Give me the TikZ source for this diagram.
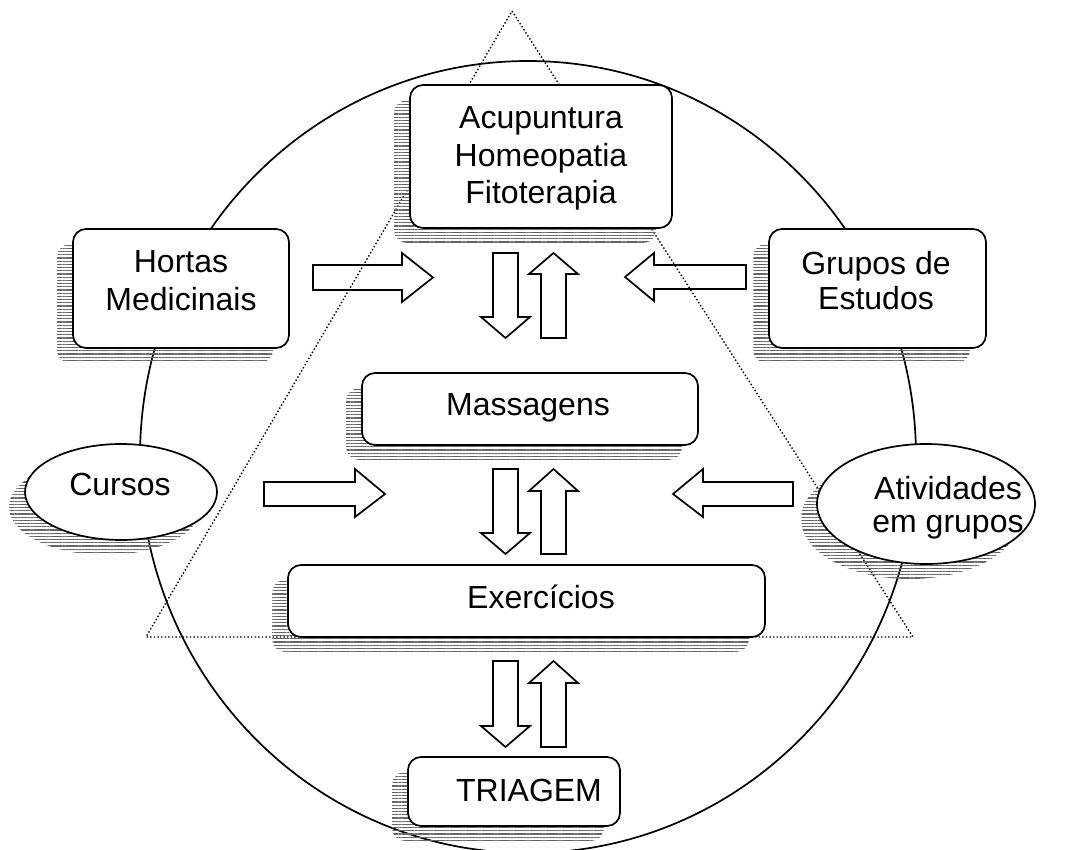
\documentclass[tikz,border=0pt]{standalone}
\usepackage{fontspec}
\setmainfont{Liberation Sans}
\usetikzlibrary{shapes.geometric,patterns.meta}
\tikzset{
  hatchshadow/.style={preaction={draw=none, pattern={Lines[angle=0,distance=3.2pt,line width=1.1pt]}, pattern color=black!60,
      transform canvas={shift={(-16pt,-15pt)}}}},
  rbox/.style={draw, line width=1.7pt, rounded corners=13pt, fill=white, inner sep=0pt, hatchshadow},
  ebox/.style={ellipse, draw, line width=1.7pt, fill=white, inner sep=0pt, hatchshadow},
  lbl/.style={inner sep=0pt, align=center, anchor=base, font=\fontsize{32}{38}\selectfont},
  barrow/.style={draw, line width=1.7pt, line join=miter},
  tri/.style={line width=1.4pt, dash pattern=on 1.4pt off 2.2pt},
  ring/.style={line width=1.7pt}
}
\begin{document}
\begin{tikzpicture}[x=1pt,y=-1pt]
\useasboundingbox (0,0) rectangle (1074,850);
% circle and triangle
\draw[ring] (528,457) ellipse [x radius=388pt, y radius=396pt];
\draw[tri] (512,11) -- (913,637) -- (146,637) -- cycle;
% boxes
\node[rbox, minimum width=262pt, minimum height=143pt] (acu) at (541,156.5) {};
\node[rbox, minimum width=216pt, minimum height=119pt] (hortas) at (181,288.5) {};
\node[rbox, minimum width=217pt, minimum height=119pt] (grupos) at (877.5,288.5) {};
\node[rbox, minimum width=336pt, minimum height=72pt] (mass) at (530,409) {};
\node[rbox, minimum width=477pt, minimum height=72pt] (exer) at (526.5,601) {};
\node[rbox, minimum width=212pt, minimum height=69pt] (tri) at (514,791.5) {};
\node[ebox, minimum width=192pt, minimum height=96pt] (cursos) at (121,492) {};
\node[ebox, minimum width=218pt, minimum height=120pt] (ativ) at (926,504) {};
% labels
\node[lbl] (tacu1) at (541,129) {Acupuntura};
\node[lbl] (tacu2) at (541,167) {Homeopatia};
\node[lbl] (tacu3) at (541,204) {Fitoterapia};
\node[lbl] (thor1) at (181,273) {Hortas};
\node[lbl] (thor2) at (181,311) {Medicinais};
\node[lbl] (tgru1) at (876,275) {Grupos de};
\node[lbl] (tgru2) at (876,310) {Estudos};
\node[lbl] (tmass) at (528,415) {Massagens};
\node[lbl] (texer) at (541,608) {Exercícios};
\node[lbl] (ttri) at (529,801) {TRIAGEM};
\node[lbl] (tcur) at (120,495) {Cursos};
\node[lbl] (tat1) at (948,499) {Atividades};
\node[lbl] (tat2) at (948,532) {em grupos};
% row 1 arrows
\draw[barrow] (313,265) -- (402,265) -- (402,253) -- (433,277.5) -- (402,302) -- (402,290) -- (313,290) -- cycle;
\draw[barrow] (746,265) -- (654,265) -- (654,253) -- (625,277) -- (654,301) -- (654,289) -- (746,289) -- cycle;
\draw[barrow] (493,253) -- (518,253) -- (518,317) -- (530,317) -- (505.5,338) -- (481,317) -- (493,317) -- cycle;
\draw[barrow] (541,338) -- (566,338) -- (566,274) -- (578,274) -- (553.5,253) -- (529,274) -- (541,274) -- cycle;
% row 2 arrows
\draw[barrow] (264,482) -- (355,482) -- (355,469) -- (385,494) -- (355,517) -- (355,506) -- (264,506) -- cycle;
\draw[barrow] (793,482) -- (703,482) -- (703,469) -- (673,494) -- (703,517) -- (703,506) -- (793,506) -- cycle;
\draw[barrow] (493,469) -- (518,469) -- (518,533) -- (530,533) -- (505.5,554) -- (481,533) -- (493,533) -- cycle;
\draw[barrow] (541,554) -- (566,554) -- (566,491) -- (578,491) -- (553.5,469) -- (529,491) -- (541,491) -- cycle;
% row 3 arrows
\draw[barrow] (493,661) -- (518,661) -- (518,726) -- (530,726) -- (505.5,747) -- (481,726) -- (493,726) -- cycle;
\draw[barrow] (541,747) -- (566,747) -- (566,683) -- (578,683) -- (553.5,661) -- (529,683) -- (541,683) -- cycle;
\end{tikzpicture}
\end{document}
